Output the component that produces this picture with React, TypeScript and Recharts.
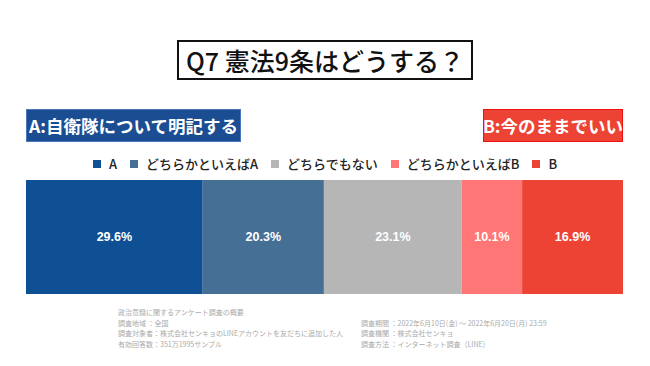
import React from 'react';
import { BarChart, Bar, XAxis, YAxis, Legend, LabelList } from 'recharts';

const seriesKeys = ['a', 'leanA', 'neutral', 'leanB', 'b'];
const seriesNames = ['A', 'どちらかといえばA', 'どちらでもない', 'どちらかといえばB', 'B'];
const seriesValues = [29.6, 20.3, 23.1, 10.1, 16.9];
const seriesColors = ['#0f4f93', '#466f96', '#b6b6b6', '#ff7676', '#ec4335'];
const categories = ['Q7'];

const titleText = 'Q7 憲法9条はどうする？';
const labelA = 'A:自衛隊について明記する';
const labelB = 'B:今のままでいい';
const notesLeft = [
  '政治意識に関するアンケート調査の概要',
  '調査地域 ：全国',
  '調査対象者：株式会社センキョのLINEアカウントを友だちに追加した人',
  '有効回答数：351万1995サンプル',
];
const notesRight = [
  '調査期間 ：2022年6月10日(金) ～ 2022年6月20日(月) 23:59',
  '調査機関 ：株式会社センキョ',
  '調査方法 ：インターネット調査（LINE）',
];

const data = categories.map((name) => {
  const row: Record<string, string | number> = { name };
  seriesKeys.forEach((k, i) => {
    row[k] = seriesValues[i];
  });
  return row;
});

const FONT = '"Noto Sans CJK JP", "Noto Sans", sans-serif';

const LegendContent = (props: any) => {
  const payload = [...(props.payload || [])].sort(
    (x: any, y: any) => seriesKeys.indexOf(x.dataKey) - seriesKeys.indexOf(y.dataKey)
  );
  return (
    <div style={{ display: 'flex', justifyContent: 'center', alignItems: 'center', fontFamily: FONT, fontSize: 13, fontWeight: 500, color: '#222' }}>
      {payload.map((p: any, i: number) => (
        <div key={i} style={{ display: 'flex', alignItems: 'center', marginRight: i < payload.length - 1 ? 13 : 0 }}>
          <span style={{ width: 8, height: 8, background: p.color, display: 'inline-block', marginRight: 8 }} />
          <span>{p.value}</span>
        </div>
      ))}
    </div>
  );
};

export default function App() {
  return (
    <div style={{ position: 'absolute', left: 0, top: 0, width: 650, height: 366, background: '#fff', fontFamily: FONT, overflow: 'hidden' }}>
      <div style={{ position: 'absolute', left: 177, top: 40, width: 296, height: 40, boxSizing: 'border-box', border: '2px solid #111', display: 'flex', alignItems: 'center', justifyContent: 'center', fontSize: 25, fontWeight: 500, color: '#111', whiteSpace: 'nowrap' }}>
        {titleText}
      </div>
      <div style={{ position: 'absolute', left: 26, top: 109, width: 215, height: 33, boxSizing: 'border-box', background: '#1a4d92', border: '1px solid #4a78b8', display: 'flex', alignItems: 'center', justifyContent: 'center', fontSize: 17.5, fontWeight: 700, color: '#fff', whiteSpace: 'nowrap' }}>
        {labelA}
      </div>
      <div style={{ position: 'absolute', left: 483, top: 109, width: 140, height: 33, boxSizing: 'border-box', background: '#ec4335', border: '1px solid #f01010', display: 'flex', alignItems: 'center', justifyContent: 'center', fontSize: 17.5, fontWeight: 700, color: '#fff', whiteSpace: 'nowrap' }}>
        {labelB}
      </div>
      <div style={{ position: 'absolute', left: 0, top: 0 }}>
        <BarChart width={650} height={366} data={data} layout="vertical" margin={{ top: 180, right: 27, bottom: 72, left: 26 }} barCategoryGap={0}>
          <XAxis type="number" domain={[0, 100]} hide />
          <YAxis type="category" dataKey="name" hide />
          <Legend verticalAlign="middle" align="center" content={<LegendContent />} wrapperStyle={{ top: 154, left: 0, width: 650 }} />
          {seriesKeys.map((k, i) => (
            <Bar key={k} dataKey={k} name={seriesNames[i]} stackId="s" fill={seriesColors[i]} isAnimationActive={false}>
              <LabelList dataKey={k} position="center" formatter={(v: any) => `${Number(v).toFixed(1)}%`} style={{ fill: '#fff', fontWeight: 700, fontSize: 12.5, fontFamily: '"Liberation Sans", Arial, sans-serif' }} />
            </Bar>
          ))}
        </BarChart>
      </div>
      <div style={{ position: 'absolute', left: 118, top: 307, fontSize: 7, lineHeight: '10.5px', color: '#aaa', whiteSpace: 'nowrap' }}>
        {notesLeft.map((t, i) => (
          <div key={i}>{t}</div>
        ))}
      </div>
      <div style={{ position: 'absolute', left: 361, top: 317.5, fontSize: 7, lineHeight: '10.5px', color: '#aaa', whiteSpace: 'nowrap' }}>
        {notesRight.map((t, i) => (
          <div key={i}>{t}</div>
        ))}
      </div>
    </div>
  );
}
